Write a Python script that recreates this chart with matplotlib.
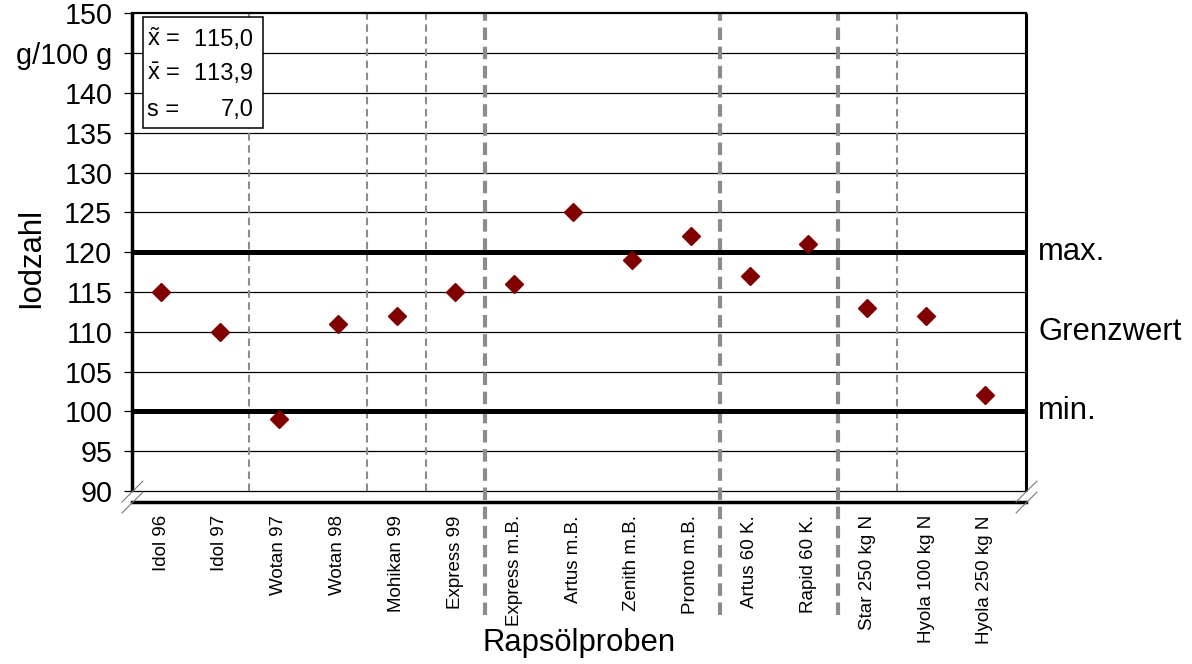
import matplotlib
matplotlib.use("Agg")
import matplotlib.pyplot as plt
from matplotlib.path import Path
from matplotlib.patches import Rectangle
import matplotlib.transforms as mtransforms

plt.rcParams['font.family'] = ['Liberation Sans', 'DejaVu Sans']
plt.rcParams['mathtext.fontset'] = 'custom'
plt.rcParams['mathtext.rm'] = 'Liberation Sans'
plt.rcParams['mathtext.it'] = 'Liberation Sans'

# ---- data ----
categories = ["Idol 96", "Idol 97", "Wotan 97", "Wotan 98", "Mohikan 99", "Express 99",
              "Express m.B.", "Artus m.B.", "Zenith m.B.", "Pronto m.B.",
              "Artus 60 K.", "Rapid 60 K.", "Star 250 kg N", "Hyola 100 kg N", "Hyola 250 kg N"]
iodzahl = [115, 110, 99, 111, 112, 115, 116, 125, 119, 122, 117, 121, 113, 112, 102]
y_ticks = [90, 95, 100, 105, 110, 115, 120, 125, 130, 135, 140, 145, 150]
y_tick_labels = ["90", "95", "100", "105", "110", "115", "120", "125", "130", "135", "140", "g/100 g", "150"]
limit_values = [120, 110, 100]
limit_labels = ["max.", "Grenzwert", "min."]
thin_separators = [1.5, 3.5, 4.5, 12.5]
thick_separators = [5.5, 9.5, 11.5]
stats_labels = [r"$\tilde{\mathrm{x}}$ =", r"$\bar{\mathrm{x}}$ =", "s ="]
stats_values = ["1\u200b15,0", "1\u200b13,9", "7,0"]

W, H = 1192, 664
fig = plt.figure(figsize=(W / 100, H / 100), dpi=100)
ax_left, ax_right, ax_top, ax_bottom = 131.7, 1025.6, 13.3, 502.0
ax = fig.add_axes([ax_left / W, 1 - ax_bottom / H, (ax_right - ax_left) / W, (ax_bottom - ax_top) / H])

x = list(range(len(categories)))
xmin, xmax = -0.5, 14.69
ymin, ymax = 88.62, 150
ax.set_xlim(xmin, xmax)
ax.set_ylim(ymin, ymax)

# spines
for s in ["left", "right"]:
    ax.spines[s].set_visible(False)
ax.spines["bottom"].set_linewidth(2.5)
ax.spines["top"].set_linewidth(1.6)

# vertical axes lines only from 90 up
ax.plot([xmin, xmin], [90, 150], color="black", lw=2.5, solid_capstyle="butt", clip_on=False, zorder=5)
ax.plot([xmax, xmax], [90, 150], color="black", lw=2.2, solid_capstyle="butt", clip_on=False, zorder=5)

# horizontal grid lines
for yv in y_ticks[:-1]:
    ax.axhline(yv, color="black", lw=0.9, zorder=1)
for yv in [limit_values[0], limit_values[2]]:
    ax.axhline(yv, color="black", lw=3.6, zorder=2)

# separators
for xv in thin_separators:
    ax.plot([xv, xv], [90, 150], color="#8c8c8c", lw=1.5, dashes=(3.6, 2.2), zorder=1.5)
for xv in thick_separators:
    ax.plot([xv, xv], [74.4, 150], color="#8c8c8c", lw=3.0, dashes=(3.0, 1.6), clip_on=False, zorder=1.5)

# data points
ax.plot(x, iodzahl, linestyle="none", marker="D", markersize=8.7, color="#800000", zorder=6)

# ticks
ax.set_yticks(y_ticks)
ax.set_yticklabels(y_tick_labels, fontsize=20.7)
ax.tick_params(axis="y", direction="out", length=6, width=0.9, pad=8)
ax.set_xticks(x)
ax.set_xticklabels(categories, rotation=90, fontsize=13.5, va="top", ha="center")
ax.tick_params(axis="x", length=0, pad=9.5)

# axis labels
ax.text(-0.1127, 0.5, "Iodzahl", rotation=90, ha="center", va="center", fontsize=22.3, transform=ax.transAxes)
ax.text(0.5, -0.288, "Rapsölproben", ha="center", va="center", fontsize=22.3, transform=ax.transAxes)

# limit labels
blend = mtransforms.blended_transform_factory(ax.transAxes, ax.transData)
for yv, lab in zip(limit_values, limit_labels):
    ax.text(1.0139, yv, lab, ha="left", va="center", fontsize=22.3, transform=blend)

# break marks
brk = Path([(-1, -1), (1, 1)], [Path.MOVETO, Path.LINETO])
for xv in [xmin, xmax]:
    ax.plot([xv, xv], [90, ymin], linestyle="none", marker=brk, markersize=15.5,
            markeredgecolor="#7a7a7a", markeredgewidth=0.8, clip_on=False, zorder=7)

# stats box
aw, ah = ax_right - ax_left, ax_bottom - ax_top
bx0, bx1, by0, by1 = 142.7, 263.3, 17.3, 128.3
ax.add_patch(Rectangle(((bx0 - ax_left) / aw, (ax_bottom - by1) / ah), (bx1 - bx0) / aw, (by1 - by0) / ah,
                       transform=ax.transAxes, facecolor="white", edgecolor="black", lw=1.1, zorder=8))
for i, (lab, val) in enumerate(zip(stats_labels, stats_values)):
    yb = [46.5, 80.5, 116.0][i]
    ax.text((147 - ax_left) / aw, (ax_bottom - yb) / ah, lab, ha="left", va="baseline", fontsize=17,
            transform=ax.transAxes, zorder=9)
    ax.text((253.5 - ax_left) / aw, (ax_bottom - yb) / ah, val, ha="right", va="baseline", fontsize=17,
            transform=ax.transAxes, zorder=9)

fig.savefig("out.png", dpi=100)
